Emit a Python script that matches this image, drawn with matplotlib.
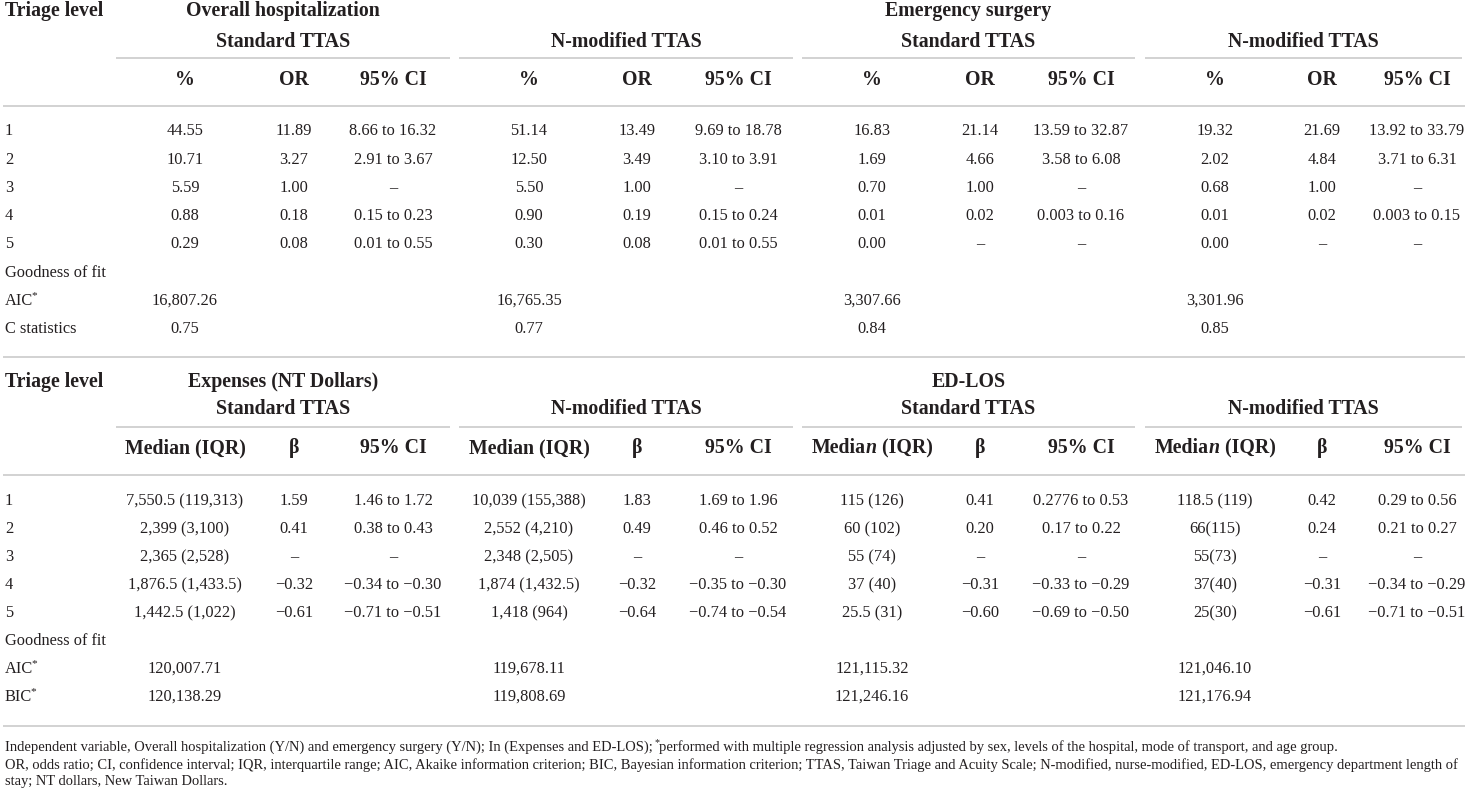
import matplotlib
matplotlib.use('Agg')
import matplotlib.pyplot as plt

# ---------------- data ----------------
levels = ['1', '2', '3', '4', '5']
top_outcomes = ['Overall hospitalization', 'Emergency surgery']
bottom_outcomes = ['Expenses (NT Dollars)', 'ED-LOS']
versions = ['Standard TTAS', 'N-modified TTAS']
top_cols = ['%', 'OR', '95% CI']
fit_top_labels = ['Goodness of fit', 'AIC', 'C statistics']
fit_bottom_labels = ['Goodness of fit', 'AIC', 'BIC']

hosp_std_pct = ['44.55', '10.71', '5.59', '0.88', '0.29']
hosp_std_or = ['11.89', '3.27', '1.00', '0.18', '0.08']
hosp_std_ci = ['8.66 to 16.32', '2.91 to 3.67', '–', '0.15 to 0.23', '0.01 to 0.55']
hosp_nmod_pct = ['51.14', '12.50', '5.50', '0.90', '0.30']
hosp_nmod_or = ['13.49', '3.49', '1.00', '0.19', '0.08']
hosp_nmod_ci = ['9.69 to 18.78', '3.10 to 3.91', '–', '0.15 to 0.24', '0.01 to 0.55']
surg_std_pct = ['16.83', '1.69', '0.70', '0.01', '0.00']
surg_std_or = ['21.14', '4.66', '1.00', '0.02', '–']
surg_std_ci = ['13.59 to 32.87', '3.58 to 6.08', '–', '0.003 to 0.16', '–']
surg_nmod_pct = ['19.32', '2.02', '0.68', '0.01', '0.00']
surg_nmod_or = ['21.69', '4.84', '1.00', '0.02', '–']
surg_nmod_ci = ['13.92 to 33.79', '3.71 to 6.31', '–', '0.003 to 0.15', '–']
top_aic = ['16,807.26', '16,765.35', '3,307.66', '3,301.96']
top_cstat = ['0.75', '0.77', '0.84', '0.85']

exp_std_med = ['7,550.5 (119,313)', '2,399 (3,100)', '2,365 (2,528)', '1,876.5 (1,433.5)', '1,442.5 (1,022)']
exp_std_beta = ['1.59', '0.41', '–', '−0.32', '−0.61']
exp_std_ci = ['1.46 to 1.72', '0.38 to 0.43', '–', '−0.34 to −0.30', '−0.71 to −0.51']
exp_nmod_med = ['10,039 (155,388)', '2,552 (4,210)', '2,348 (2,505)', '1,874 (1,432.5)', '1,418 (964)']
exp_nmod_beta = ['1.83', '0.49', '–', '−0.32', '−0.64']
exp_nmod_ci = ['1.69 to 1.96', '0.46 to 0.52', '–', '−0.35 to −0.30', '−0.74 to −0.54']
los_std_med = ['115 (126)', '60 (102)', '55 (74)', '37 (40)', '25.5 (31)']
los_std_beta = ['0.41', '0.20', '–', '−0.31', '−0.60']
los_std_ci = ['0.2776 to 0.53', '0.17 to 0.22', '–', '−0.33 to −0.29', '−0.69 to −0.50']
los_nmod_med = ['118.5 (119)', '66(115)', '55(73)', '37(40)', '25(30)']
los_nmod_beta = ['0.42', '0.24', '–', '−0.31', '−0.61']
los_nmod_ci = ['0.29 to 0.56', '0.21 to 0.27', '–', '−0.34 to −0.29', '−0.71 to −0.51']
bottom_aic = ['120,007.71', '119,678.11', '121,115.32', '121,046.10']
bottom_bic = ['120,138.29', '119,808.69', '121,246.16', '121,176.94']

foot1_a = 'Independent variable, Overall hospitalization (Y/N) and emergency surgery (Y/N); In (Expenses and ED-LOS); '
foot1_b = 'performed with multiple regression analysis adjusted by sex, levels of the hospital, mode of transport, and age group.'
foot2 = ('OR, odds ratio; CI, confidence interval; IQR, interquartile range; AIC, Akaike information criterion; '
         'BIC, Bayesian information criterion; TTAS, Taiwan Triage and Acuity Scale; N-modified, nurse-modified, '
         'ED-LOS, emergency department length of')
foot3 = 'stay; NT dollars, New Taiwan Dollars.'

top_table = [
    (hosp_std_pct, hosp_std_or, hosp_std_ci),
    (hosp_nmod_pct, hosp_nmod_or, hosp_nmod_ci),
    (surg_std_pct, surg_std_or, surg_std_ci),
    (surg_nmod_pct, surg_nmod_or, surg_nmod_ci),
]
bottom_table = [
    (exp_std_med, exp_std_beta, exp_std_ci),
    (exp_nmod_med, exp_nmod_beta, exp_nmod_ci),
    (los_std_med, los_std_beta, los_std_ci),
    (los_nmod_med, los_nmod_beta, los_nmod_ci),
]

# ---------------- layout ----------------
W, H = 1470, 796
fig = plt.figure(figsize=(W / 100, H / 100), dpi=100)
ax = fig.add_axes([0, 0, 1, 1])
ax.set_xlim(0, W)
ax.set_ylim(H, 0)
ax.axis('off')
renderer = fig.canvas.get_renderer()

SERIF = 'Liberation Serif'
TXT = '#231f20'
LINE = '#cfcfcf'
LW = 1.3

def width_px(s, size, weight='normal', style='normal'):
    t = ax.text(0, 0, s, fontsize=size, family=SERIF, weight=weight, style=style)
    w = t.get_window_extent(renderer).width
    t.remove()
    return w

HEAD = 11.5 * 194 / width_px('Overall hospitalization', 11.5, 'bold')
BODY = 11 * 86 / width_px('8.66 to 16.32', 11)
FOOT = 10 * 1458 / width_px(foot2, 10)

X0, X1 = 3, 1465
group_segs = [(116, 450), (459, 793), (802, 1135), (1145, 1462)]
col_x = [[185, 294, 393], [529, 637, 738], [872, 980, 1081], [1215, 1322, 1417]]
LABEL_X = 5

def txt(x, y, s, size=None, weight='normal', style='normal', ha='center'):
    ax.text(x, y, s, fontsize=size or BODY, family=SERIF, weight=weight, style=style,
            ha=ha, va='center', color=TXT)

def hline(y, x0=X0, x1=X1):
    ax.plot([x0, x1], [y, y], color=LINE, lw=LW, solid_capstyle='butt')

def rich(x, y, pieces, size, ha='left'):
    # pieces: (text, weight, style, sup)
    ws = []
    for s, wt, st, sup in pieces:
        w = width_px(s, size * (0.7 if sup else 1), wt, st)
        ws.append(w - 2.5 if sup else w)
    total = sum(ws)
    cx = x - total / 2 if ha == 'center' else x
    for (s, wt, st, sup), w in zip(pieces, ws):
        sz = size * (0.7 if sup else 1)
        yy = y - size * 0.42 if sup else y
        xx = cx - 1.5 if sup else cx
        ax.text(xx, yy, s, fontsize=sz, family=SERIF, weight=wt, style=st,
                ha='left', va='center', color=TXT)
        cx += w

def aic_label(y, name):
    rich(LABEL_X, y, [(name, 'normal', 'normal', False), ('*', 'normal', 'normal', True)], BODY)

# ---------------- top block ----------------
yT = dict(h1=11, h2=42, ul=58, ch=80, l1=106)
rows_top = [131, 159.5, 188, 216, 244.5]
fit_top_y = [273, 301, 329]

txt(LABEL_X, yT['h1'], 'Triage level', HEAD, 'bold', ha='left')
for k, name in enumerate(top_outcomes):
    a, b = group_segs[2 * k]
    txt((a + b) / 2, yT['h1'], name, HEAD, 'bold')
for g, (a, b) in enumerate(group_segs):
    txt((a + b) / 2, yT['h2'], versions[g % 2], HEAD, 'bold')
    hline(yT['ul'], a, b)
    for c, name in enumerate(top_cols):
        txt(col_x[g][c], yT['ch'], name, HEAD, 'bold')
hline(yT['l1'])
for r, lev in enumerate(levels):
    txt(LABEL_X, rows_top[r], lev, ha='left')
for g, cols in enumerate(top_table):
    for c, vals in enumerate(cols):
        for r, v in enumerate(vals):
            txt(col_x[g][c], rows_top[r], v)
txt(LABEL_X, fit_top_y[0], fit_top_labels[0], ha='left')
aic_label(fit_top_y[1], fit_top_labels[1])
txt(LABEL_X, fit_top_y[2], fit_top_labels[2], ha='left')
for g in range(4):
    txt(col_x[g][0], fit_top_y[1], top_aic[g])
    txt(col_x[g][0], fit_top_y[2], top_cstat[g])
hline(357)

# ---------------- bottom block ----------------
yB = dict(h1=382, h2=409, ul=427, ch=448, l1=475)
rows_bot = [501, 529, 557, 585, 613]
fit_bot_y = [641, 669, 697]

txt(LABEL_X, yB['h1'], 'Triage level', HEAD, 'bold', ha='left')
for k, name in enumerate(bottom_outcomes):
    a, b = group_segs[2 * k]
    txt((a + b) / 2, yB['h1'], name, HEAD, 'bold')
for g, (a, b) in enumerate(group_segs):
    txt((a + b) / 2, yB['h2'], versions[g % 2], HEAD, 'bold')
    hline(yB['ul'], a, b)
    if g < 2:
        txt(col_x[g][0], yB['ch'], 'Median (IQR)', HEAD, 'bold')
    else:
        rich(col_x[g][0], yB['ch'], [('Media', 'bold', 'normal', False),
                                     ('n', 'bold', 'italic', False),
                                     (' (IQR)', 'bold', 'normal', False)], HEAD, ha='center')
    txt(col_x[g][1], yB['ch'], 'β', HEAD, 'bold')
    txt(col_x[g][2], yB['ch'], '95% CI', HEAD, 'bold')
hline(yB['l1'])
for r, lev in enumerate(levels):
    txt(LABEL_X, rows_bot[r], lev, ha='left')
for g, cols in enumerate(bottom_table):
    for c, vals in enumerate(cols):
        for r, v in enumerate(vals):
            txt(col_x[g][c], rows_bot[r], v)
txt(LABEL_X, fit_bot_y[0], fit_bottom_labels[0], ha='left')
aic_label(fit_bot_y[1], fit_bottom_labels[1])
aic_label(fit_bot_y[2], fit_bottom_labels[2])
for g in range(4):
    txt(col_x[g][0], fit_bot_y[1], bottom_aic[g])
    txt(col_x[g][0], fit_bot_y[2], bottom_bic[g])
hline(726)

# ---------------- footnotes ----------------
rich(LABEL_X, 747, [(foot1_a, 'normal', 'normal', False),
                    ('*', 'normal', 'normal', True),
                    (foot1_b, 'normal', 'normal', False)], FOOT)
txt(LABEL_X, 765, foot2, FOOT, ha='left')
txt(LABEL_X, 782, foot3, FOOT, ha='left')

fig.savefig('out.png', dpi=100, facecolor='white')
